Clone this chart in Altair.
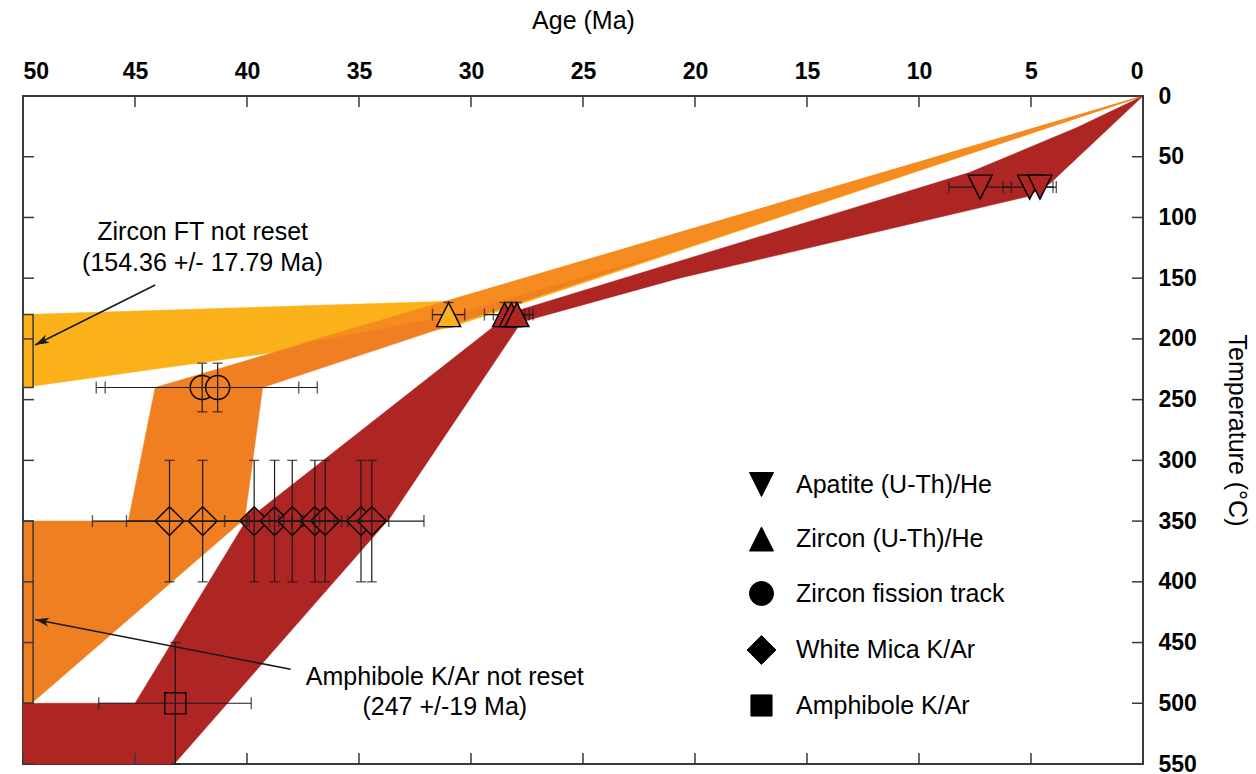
import math
import altair as alt
import pandas as pd

# plot-area size in pixels
W, H = 1120, 668
TICK = 11
FONT = "Liberation Sans"

RED = "#AD2624"
ORANGE = "#F07F22"
LIGHT_ORANGE = "#F68B1F"
YELLOW = "#FBB21A"
INK = "#1a1a1a"
FRAME = "#3a3a3a"

# --- cooling-path envelopes, vertices as (age Ma, temperature degC) ---
yellow_age = [50.0, 31.0, 0.0, 31.0, 50.0]
yellow_temp = [180, 169, 0, 191, 240]

orange_age = [50.0, 45.3, 44.1, 0.0, 39.3, 40.1, 49.55, 50.0]
orange_temp = [350, 350, 240, 0, 240, 348, 499, 500]

light_age = [0.0, 20.7, 31.0, 37.6]
light_temp = [0, 126, 181, 204]

red_age = [50.0, 50.0, 45.0, 40.05, 29.0, 28.5, 7.75, 2.95, 0.0,
           4.15, 5.2, 20.7, 27.75, 33.6, 43.25]
red_temp = [550, 500, 500, 350, 190, 180, 63, 26, 0,
            72, 83, 150, 186, 347, 550]

# "not reset" boxes on the left margin (ages older than 50 Ma)
box_age0 = [50.0, 50.0]
box_age1 = [49.55, 49.55]
box_t0 = [180, 350]
box_t1 = [240, 500]
box_fill = [YELLOW, ORANGE]

# --- thermochronometer ages ---
MINERALS = ["Apatite (U-Th)/He", "Zircon (U-Th)/He", "Zircon fission track",
            "White Mica K/Ar", "Amphibole K/Ar"]
SHAPES = ["M0,1L1,-1L-1,-1Z", "M0,-1L1,1L-1,1Z", "circle",
          "M0,-1.2L1.2,0L0,1.2L-1.2,0Z",
          "M-0.88,-0.88L0.88,-0.88L0.88,0.88L-0.88,0.88Z"]

ahe_age = [7.27, 5.06, 4.60]
ahe_lo = [8.66, 6.25, 5.18]
ahe_hi = [5.88, 3.87, 4.02]
ahe_temp, ahe_terr = 75, 0
ahe_fill = [RED, RED, RED]

zhe_age = [31.0, 28.5, 28.2, 27.95]
zhe_lo = [31.72, 29.4, 29.0, 28.67]
zhe_hi = [30.28, 27.6, 27.4, 27.23]
zhe_temp, zhe_terr = 180, 10
zhe_fill = [YELLOW, RED, RED, RED]

zft_age = [42.0, 41.31]
zft_lo = [46.33, 46.73]
zft_hi = [37.69, 36.86]
zft_temp, zft_terr = 240, 20
zft_fill = [ORANGE, ORANGE]

wm_age = [43.46, 41.98, 39.68, 38.77, 37.98, 36.97, 36.51, 34.91, 34.43]
wm_lo = [46.9, 45.38, 41.0, 39.9, 39.0, 38.0, 37.5, 36.1, 36.76]
wm_hi = [40.0, 38.58, 38.36, 37.6, 37.0, 35.78, 35.5, 33.67, 32.1]
wm_temp, wm_terr = 350, 50
wm_fill = [ORANGE, ORANGE] + [RED] * 7

amp_age = [43.2]
amp_lo = [46.62]
amp_hi = [39.81]
amp_temp, amp_terr = 500, 50
amp_fill = [RED]

# --- annotations ---
note_text = ["Zircon FT not reset", "(154.36 +/- 17.79 Ma)",
             "Amphibole K/Ar not reset", "(247 +/-19 Ma)"]
note_age = [41.98, 41.98, 31.17, 31.17]
note_temp = [111.7, 137.8, 478.2, 502.9]

arrow_age0 = [44.1, 38.05]
arrow_temp0 = [155.6, 472]
arrow_age1 = [49.46, 49.46]
arrow_temp1 = [205, 431]

x_ticks = list(range(50, -1, -5))
y_ticks = list(range(0, 551, 50))

# ---------------------------------------------------------------------------
XS = alt.Scale(domain=[0, 50], reverse=True, nice=False, zero=False)
YS = alt.Scale(domain=[0, 550], reverse=True, nice=False, zero=False)

x_axis = alt.Axis(orient="top", values=x_ticks, title="Age (Ma)", grid=False,
                  ticks=False, domain=False, labelFont=FONT, labelFontSize=23,
                  labelFontWeight="bold", labelColor="black", labelPadding=13,
                  titleFont=FONT, titleFontSize=25, titleFontWeight="normal",
                  titleColor="black", titleY=-68, titleBaseline="alphabetic")
y_axis = alt.Axis(orient="right", values=y_ticks, title="Temperature (°C)",
                  grid=False, ticks=False, domain=False, labelFont=FONT,
                  labelFontSize=23, labelFontWeight="bold", labelColor="black",
                  labelAlign="left", labelPadding=15, titleFont=FONT,
                  titleFontSize=25, titleFontWeight="normal", titleColor="black",
                  titleAngle=90, titleX=93, titleY=H / 2,
                  titleBaseline="middle", titleAlign="center")


def X(field):
    return alt.X(field, scale=XS, axis=x_axis)


def Y(field):
    return alt.Y(field, scale=YS, axis=y_axis)


def envelope(ages, temps, color):
    df = pd.DataFrame({"age": ages, "temp": temps, "i": range(len(ages))})
    return alt.Chart(df).mark_line(
        interpolate="linear-closed", fill=color, stroke=color,
        strokeWidth=0.5, fillOpacity=1
    ).encode(x=X("age:Q"), y=Y("temp:Q"), order="i:Q")


yellow = envelope(yellow_age, yellow_temp, YELLOW)
orange = envelope(orange_age, orange_temp, ORANGE)
light = envelope(light_age, light_temp, LIGHT_ORANGE)
red = envelope(red_age, red_temp, RED)

boxes_df = pd.DataFrame({"a0": box_age0, "a1": box_age1, "t0": box_t0,
                         "t1": box_t1, "fill": box_fill})
boxes = alt.Chart(boxes_df).mark_rect(stroke=FRAME, strokeWidth=1.5).encode(
    x=X("a0:Q"), x2="a1:Q", y=Y("t0:Q"), y2="t1:Q",
    fill=alt.Fill("fill:N", scale=None),
)

# sample table
rows = []
groups = [
    (MINERALS[0], ahe_age, ahe_lo, ahe_hi, ahe_temp, ahe_terr, ahe_fill),
    (MINERALS[1], zhe_age, zhe_lo, zhe_hi, zhe_temp, zhe_terr, zhe_fill),
    (MINERALS[2], zft_age, zft_lo, zft_hi, zft_temp, zft_terr, zft_fill),
    (MINERALS[3], wm_age, wm_lo, wm_hi, wm_temp, wm_terr, wm_fill),
    (MINERALS[4], amp_age, amp_lo, amp_hi, amp_temp, amp_terr, amp_fill),
]
for name, ages, los, his, temp, terr, fills in groups:
    for a, lo, hi, f in zip(ages, los, his, fills):
        rows.append({"mineral": name, "age": a, "lo": lo, "hi": hi,
                     "temp": temp, "terr": terr, "fill": f})
samples = pd.DataFrame(rows)

base = alt.Chart(samples)

shape_enc = alt.Shape(
    "mineral:N",
    scale=alt.Scale(domain=MINERALS, range=SHAPES),
    legend=alt.Legend(title=None, orient="none", legendX=726, legendY=376,
                      symbolSize=576, symbolFillColor="black",
                      symbolStrokeColor="black", symbolStrokeWidth=1,
                      labelFont=FONT, labelFontSize=25, labelColor="black",
                      labelLimit=0, labelOffset=22, rowPadding=25.5, padding=0),
)


def markers(keep):
    return base.transform_filter(
        alt.FieldOneOfPredicate(field="mineral", oneOf=keep)
    ).mark_point(filled=True, size=576, stroke="black", strokeWidth=1.4,
                 opacity=1, fillOpacity=1).encode(
        x=X("age:Q"), y=Y("temp:Q"),
        shape=shape_enc,
        fill=alt.Fill("fill:N", scale=None),
    )


flat_markers = markers(MINERALS[2:])
tri_markers = markers(MINERALS[:2])

h_bars = base.mark_rule(color=INK, strokeWidth=1.2).encode(
    x=X("lo:Q"), x2="hi:Q", y=Y("temp:Q"),
)
h_caps = base.transform_fold(["lo", "hi"], as_=["end", "capAge"]).mark_tick(
    orient="vertical", size=12, thickness=1.4, color=INK
).encode(x=X("capAge:Q"), y=Y("temp:Q"))
v_src = base.transform_filter("datum.terr > 0").transform_calculate(
    tlo="datum.temp - datum.terr", thi="datum.temp + datum.terr"
)
v_bars = v_src.mark_rule(color=INK, strokeWidth=1.2).encode(
    x=X("age:Q"), y=Y("tlo:Q"), y2="thi:Q",
)
v_caps = v_src.transform_fold(["tlo", "thi"], as_=["end", "capT"]).mark_tick(
    orient="horizontal", size=10, thickness=1.4, color=INK
).encode(x=X("age:Q"), y=Y("capT:Q"))

# inward-pointing axis ticks on all four sides
xt = alt.Chart(pd.DataFrame({"v": x_ticks}))
yt = alt.Chart(pd.DataFrame({"v": y_ticks}))
tick_style = dict(color=FRAME, strokeWidth=1.5)
top_ticks = xt.mark_rule(**tick_style).encode(
    x=X("v:Q"), y=alt.value(0), y2=alt.value(TICK))
bottom_ticks = xt.mark_rule(**tick_style).encode(
    x=X("v:Q"), y=alt.value(H - TICK), y2=alt.value(H))
right_ticks = yt.mark_rule(**tick_style).encode(
    y=Y("v:Q"), x=alt.value(W - TICK), x2=alt.value(W))
left_ticks = yt.mark_rule(**tick_style).encode(
    y=Y("v:Q"), x=alt.value(0), x2=alt.value(TICK))

# annotation arrows
px_ma, px_c = W / 50, H / 550
angles = []
for a0, t0, a1, t1 in zip(arrow_age0, arrow_temp0, arrow_age1, arrow_temp1):
    dx = (a1 - a0) * -px_ma
    dy = (t1 - t0) * px_c
    angles.append(math.degrees(math.atan2(dx, -dy)) % 360)
arrows_df = pd.DataFrame({"a0": arrow_age0, "t0": arrow_temp0,
                          "a1": arrow_age1, "t1": arrow_temp1, "ang": angles})
arrow_lines = alt.Chart(arrows_df).mark_rule(color=INK, strokeWidth=1.6).encode(
    x=X("a0:Q"), x2="a1:Q", y=Y("t0:Q"), y2="t1:Q",
)
arrow_heads = alt.Chart(arrows_df).mark_point(
    shape="M0,0L-0.55,1.75L0,1.3L0.55,1.75Z", filled=True, size=256,
    color=INK, opacity=1
).encode(
    x=X("a1:Q"), y=Y("t1:Q"),
    angle=alt.Angle("ang:Q", scale=None),
)

notes = alt.Chart(pd.DataFrame({"text": note_text, "age": note_age,
                                "temp": note_temp})).mark_text(
    font=FONT, fontSize=25, color="black", align="center", baseline="middle"
).encode(x=X("age:Q"), y=Y("temp:Q"), text="text:N")

chart = alt.layer(
    yellow, orange, light, red, boxes,
    flat_markers, h_bars, h_caps, v_bars, v_caps, tri_markers,
    top_ticks, bottom_ticks, right_ticks, left_ticks,
    arrow_lines, arrow_heads, notes,
).properties(
    width=W, height=H,
    autosize=alt.AutoSizeParams(type="none"),
    padding={"left": 23, "top": 96, "right": 113, "bottom": 10},
    background="white",
).configure_view(stroke=FRAME, strokeWidth=2)

chart.save("out.html", embed_options={"renderer": "svg", "actions": False})
